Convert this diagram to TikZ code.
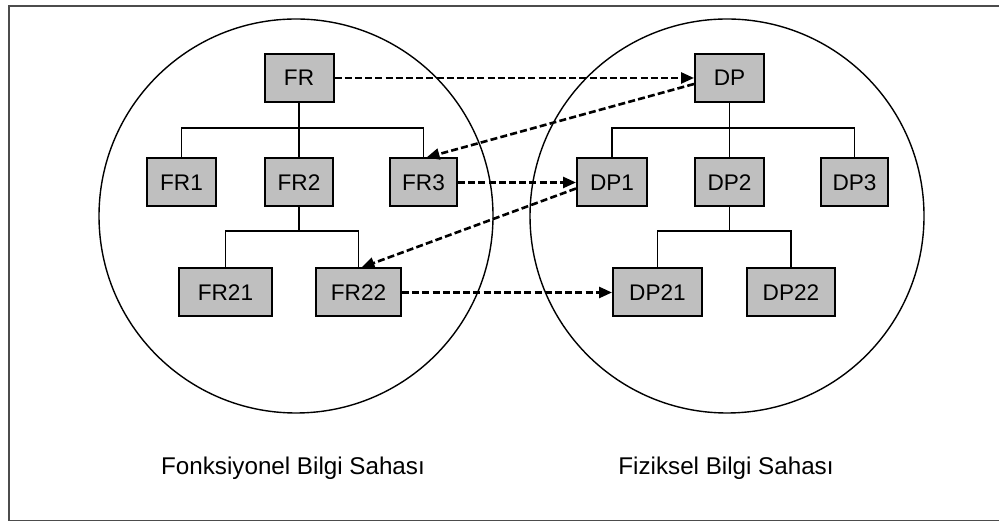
\documentclass[tikz,border=0pt]{standalone}
\usepackage{fontspec}
\setmainfont{Liberation Sans}
\usetikzlibrary{arrows.meta}

\tikzset{
  reqbox/.style={draw=black, line width=1pt, fill=gray!50, inner sep=0pt,
                 minimum height=24pt, font=\fontsize{11.3}{13}\selectfont},
  treeline/.style={draw=black, line width=0.8pt},
  areacircle/.style={draw=black, line width=0.7pt, circle, inner sep=0pt},
  mapping/.style={draw=black, line width=1.3pt, dash pattern=on 3.5pt off 1.6pt,
                  -{Triangle[length=6.5pt,width=5.5pt]}},
  caption/.style={font=\fontsize{12.1}{14}\selectfont},
}

\begin{document}
\begin{tikzpicture}[x=0.5pt, y=-0.5pt]
  \useasboundingbox (0,0) rectangle (999,522);

  % outer frame (right edge runs past the page)
  \draw[line width=0.9pt, draw=black!70] (9,6) rectangle (1010,520.5);

  % the two areas
  \node[areacircle, minimum size=197pt] (farea) at (296,216) {};
  \node[areacircle, minimum size=197pt] (parea) at (727,216) {};

  % functional requirements
  \node[reqbox, minimum width=34.5pt] (FR)   at (299,78)    {FR};
  \node[reqbox, minimum width=34.5pt] (FR1)  at (181.5,182.5) {FR1};
  \node[reqbox, minimum width=34pt]   (FR2)  at (299,182.5) {FR2};
  \node[reqbox, minimum width=33.5pt] (FR3)  at (423.5,182.5) {FR3};
  \node[reqbox, minimum width=46.5pt] (FR21) at (225.5,292.5) {FR21};
  \node[reqbox, minimum width=42.5pt] (FR22) at (358.5,292.5) {FR22};

  % design parameters
  \node[reqbox, minimum width=34.5pt] (DP)   at (729.5,78)    {DP};
  \node[reqbox, minimum width=35pt]   (DP1)  at (612,182.5)   {DP1};
  \node[reqbox, minimum width=34.5pt] (DP2)  at (729.5,182.5) {DP2};
  \node[reqbox, minimum width=33.5pt] (DP3)  at (854.5,182.5) {DP3};
  \node[reqbox, minimum width=44.5pt] (DP21) at (657.5,292.5) {DP21};
  \node[reqbox, minimum width=44pt]   (DP22) at (791,292.5)   {DP22};

  % bus heights of the trees
  \coordinate (fbus1) at (299,128);
  \coordinate (fbus2) at (299,231);
  \coordinate (pbus1) at (729.5,128);
  \coordinate (pbus2) at (729.5,231);

  % functional tree
  \draw[treeline] (FR.south) -- (FR2.north);
  \draw[treeline] (FR1.north) -- (FR1.north |- fbus1) -- (FR3.north |- fbus1) -- (FR3.north);
  \draw[treeline] (FR2.south) -- (fbus2);
  \draw[treeline] (FR21.north) -- (FR21.north |- fbus2) -- (FR22.north |- fbus2) -- (FR22.north);

  % physical tree
  \draw[treeline] (DP.south) -- (DP2.north);
  \draw[treeline] (DP1.north) -- (DP1.north |- pbus1) -- (DP3.north |- pbus1) -- (DP3.north);
  \draw[treeline] (DP2.south) -- (pbus2);
  \draw[treeline] (DP21.north) -- (DP21.north |- pbus2) -- (DP22.north |- pbus2) -- (DP22.north);

  % zigzag mapping between the areas
  \draw[mapping] (FR.east) -- (DP.west);
  \draw[mapping] ([yshift=-3pt]DP.west) -- ([xshift=1.5pt]FR3.north);
  \draw[mapping] (FR3.east) -- (DP1.west);
  \draw[mapping] ([yshift=-3pt]DP1.west) -- ([xshift=1.5pt]FR22.north);
  \draw[mapping] (FR22.east) -- (DP21.west);

  % area names
  \node[caption] (fname) at (293,468) {Fonksiyonel Bilgi Sahası};
  \node[caption] (pname) at (726,468) {Fiziksel Bilgi Sahası};
\end{tikzpicture}
\end{document}
